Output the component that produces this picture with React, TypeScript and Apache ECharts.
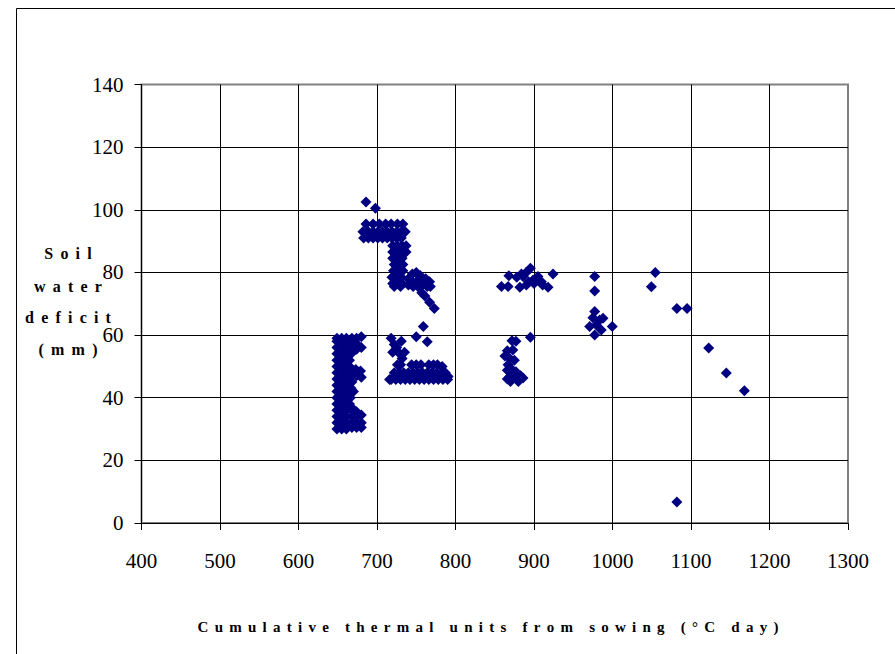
import React, { useEffect, useRef } from "react";
import * as echarts from "echarts";

// ---- Data (x: cumulative thermal units, y: soil water deficit) ----
const xTicks = [400, 500, 600, 700, 800, 900, 1000, 1100, 1200, 1300];
const yTicks = [0, 20, 40, 60, 80, 100, 120, 140];

// Block at ~650-682 °C day, 30-59 mm
const clusterA: number[][] = [
  [649, 30], [649, 32], [649, 34], [649, 36], [649, 38], [649, 40], [649, 42], [649, 44],
  [649, 46], [649, 48], [649, 50], [649, 52], [649, 54], [649, 56], [649, 58], [649, 59],
  [655, 30], [655, 32], [655, 34], [655, 36], [655, 38], [655, 40], [655, 42], [655, 44],
  [655, 46], [655, 48], [655, 50], [655, 52], [655, 54], [655, 56], [655, 58], [655, 59],
  [661, 30], [661, 32], [661, 34], [661, 36], [661, 38], [661, 40], [661, 42], [661, 44],
  [661, 46], [661, 48], [661, 50], [661, 52], [661, 54], [661, 56], [661, 58], [661, 59],
  [668, 59], [674, 59], [680, 59.5], [668, 57], [673, 57.5], [668, 55.5], [674, 55.5], [680, 56],
  [667, 54], [665, 52], [667, 49.5], [673, 49], [679, 48.5], [668, 47], [674, 47], [680, 46.5],
  [668, 45], [667, 43], [670, 42], [666, 40], [665, 38], [667, 37], [668, 36], [674, 35.5],
  [668, 34], [674, 34], [680, 34.5], [668, 32], [674, 32], [680, 32], [668, 30.5], [674, 30.5], [680, 30.5],
];

// Upper block ~682-775 °C day, 68-103 mm
const clusterB: number[][] = [
  [686, 102.5], [698, 100.5],
  [686, 95.5], [695, 95.5], [703, 95.5], [711, 95.5], [718, 95.5], [726, 95.5], [733, 95.5],
  [682, 93], [689, 93], [695, 93], [701, 93], [707, 93], [713, 93], [719, 93], [725, 93], [731, 93], [736, 93],
  [683, 91], [689, 91], [695, 91], [701, 91], [707, 91], [713, 91], [719, 91], [725, 91], [731, 91],
  [720, 88.5], [726, 88.5], [732, 88.5], [737, 88.5],
  [720, 86.5], [726, 86.5], [732, 86.5], [737, 86.5],
  [720, 84.5], [726, 84.5], [732, 84.5],
  [722, 82.5], [728, 82.5], [733, 82.5],
  [721, 80.5], [727, 80.5], [733, 80.5],
  [719, 78.5], [725, 78.5], [731, 78.5],
  [720, 76.5], [726, 76.5], [732, 76.5], [722, 75.5], [730, 75.5],
  [740, 78], [745, 79.5], [750, 80], [755, 79], [745, 77], [750, 77], [756, 77], [762, 78], [767, 77],
  [740, 76], [746, 75.5], [752, 75.5], [758, 76], [764, 75.5], [768, 75.5],
  [757, 73.5], [761, 72.5], [767, 70.5], [773, 68.5],
];

// Lower block ~716-791 °C day, 45-63 mm
const clusterC: number[][] = [
  [718, 59], [722, 57], [731, 58], [725, 56], [720, 54.5], [729, 54], [735, 54.5], [732, 52.5],
  [759, 62.7], [750, 59.5], [764, 57.9],
  [716, 45.8], [718, 45.8], [724, 45.8], [730, 45.8], [736, 45.8], [742, 45.8], [748, 45.8], [754, 45.8],
  [760, 45.8], [766, 45.8], [772, 45.8], [778, 45.8], [784, 45.8], [790, 45.8],
  [722, 48], [728, 48], [734, 48], [740, 48], [746, 48], [752, 48], [758, 48], [764, 48],
  [770, 48], [776, 48], [782, 48], [787, 48],
  [726, 50.5], [730, 50.5], [744, 50.5], [750, 50.5], [756, 50.5], [766, 50.5], [772, 50.5], [777, 50.5],
  [783, 50], [790.6, 46.8],
];

// ~858-925 °C day, 75-82 mm
const clusterD: number[][] = [
  [858.5, 75.5], [868, 78.9], [867, 75.5], [882, 75.3], [878, 78.5], [886, 78.7], [884, 79.5],
  [890, 80], [895.4, 81.3], [890.3, 76], [898.8, 77.6], [893, 77], [900, 76.5], [905, 78.7],
  [909.4, 77], [911, 76], [917.9, 75.3], [924.2, 79.5],
];

// ~862-887 °C day, 45-59 mm
const clusterE: number[][] = [
  [872, 58.2], [877, 58], [866, 55], [873, 55.2], [863, 53.3], [869, 52.5], [875, 52],
  [867, 50.5], [866, 48.8], [872, 49], [877, 48.3], [869, 46.7], [876, 46.5], [883, 47],
  [886, 46.3], [870, 45.2], [880, 45.2], [866, 46], [895.4, 59.3],
];

// ~970-1000 °C day
const clusterF: number[][] = [
  [977.3, 78.7], [977.3, 74.1], [977.3, 67.5], [983.6, 64.8], [987.9, 65.4], [970.9, 62.7],
  [979.4, 63.2], [985.7, 61.6], [977.3, 60], [999.7, 62.7], [975, 65.5],
];

// Isolated late points
const latePoints: number[][] = [
  [1049.5, 75.4], [1054.5, 80], [1082, 68.5], [1095, 68.5], [1122.5, 55.9],
  [1145, 47.9], [1168, 42.2], [1082, 6.7],
];

const xTitle = "Cumulative thermal units from sowing (°C day)";
const yTitleLines = ["Soil", "water", "deficit", "(mm)"];

function spaced(s: string, gap: string): string {
  return s
    .split(" ")
    .map((w) => Array.from(w).join(gap))
    .join(gap + "\u00a0" + gap);
}

const SERIF = "Liberation Serif";

export default function App() {
  const ref = useRef<HTMLDivElement>(null);
  useEffect(() => {
    if (!ref.current) return;
    const chart = echarts.init(ref.current, undefined, { renderer: "svg" });
    const data = [
      ...clusterA, ...clusterB, ...clusterC, ...clusterD, ...clusterE, ...clusterF, ...latePoints,
    ];
    const yTitleY = [253, 286, 317, 349];
    chart.setOption({
      animation: false,
      backgroundColor: "#fff",
      grid: {
        left: 141.5,
        right: 47,
        top: 84.5,
        bottom: 131,
        show: true,
        borderColor: "#808080",
        borderWidth: 2,
        backgroundColor: "transparent",
      },
      xAxis: {
        type: "value",
        min: xTicks[0],
        max: xTicks[xTicks.length - 1],
        interval: 100,
        axisLine: { show: true, onZero: false, lineStyle: { color: "#000", width: 1 } },
        axisTick: { show: true, inside: false, length: 7, lineStyle: { color: "#000" } },
        axisLabel: {
          color: "#000",
          fontSize: 21,
          fontFamily: SERIF,
          margin: 27,
          formatter: (v: number) => String(v),
        },
        splitLine: { show: true, showMaxLine: false, lineStyle: { color: "#000", width: 1 } },
      },
      yAxis: {
        type: "value",
        min: yTicks[0],
        max: yTicks[yTicks.length - 1],
        interval: 20,
        axisLine: { show: true, onZero: false, lineStyle: { color: "#000", width: 1 } },
        axisTick: { show: true, inside: false, length: 7, lineStyle: { color: "#000" } },
        axisLabel: {
          color: "#000",
          fontSize: 21,
          fontFamily: SERIF,
          margin: 18,
          formatter: (v: number) => String(v),
        },
        splitLine: { show: true, showMaxLine: false, lineStyle: { color: "#000", width: 1 } },
      },
      graphic: [
        {
          type: "rect",
          silent: true,
          z: -10,
          shape: { x: 16.5, y: 8.5, width: 1000, height: 800 },
          style: { fill: "none", stroke: "#000", lineWidth: 1 },
        },
        ...yTitleLines.map((t, i) => ({
          type: "text",
          silent: true,
          x: 68,
          y: yTitleY[i],
          style: {
            text: spaced(t, "\u00a0\u2009"),
            fill: "#000",
            fontFamily: SERIF,
            fontSize: 16,
            fontWeight: "bold",
            align: "center",
            verticalAlign: "middle",
          },
        })),
        {
          type: "text",
          silent: true,
          x: 488,
          y: 627,
          style: {
            text: spaced(xTitle, "\u00a0\u2006"),
            fill: "#000",
            fontFamily: SERIF,
            fontSize: 15,
            fontWeight: "bold",
            align: "center",
            verticalAlign: "middle",
          },
        },
      ],
      series: [
        {
          type: "scatter",
          symbol: "diamond",
          symbolSize: 11,
          itemStyle: { color: "#000080", opacity: 1 },
          data,
        },
      ],
    });
    return () => chart.dispose();
  }, []);
  return (
    <div
      ref={ref}
      style={{ position: "absolute", left: 0, top: 0, width: 895, height: 654 }}
    />
  );
}
